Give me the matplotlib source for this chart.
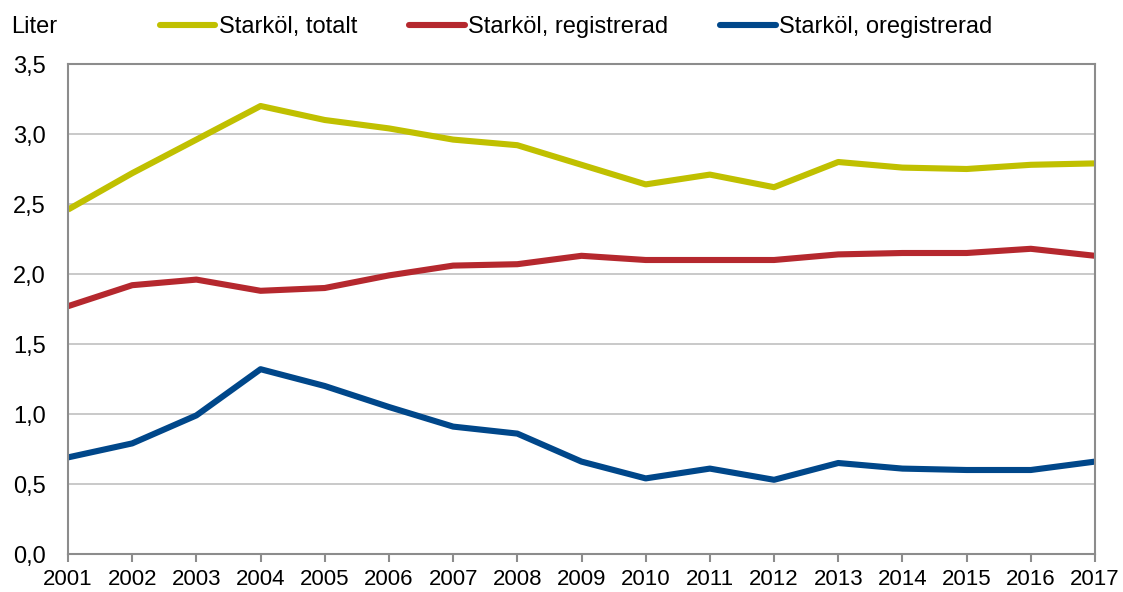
import numpy as np
import matplotlib.pyplot as plt

plt.rcParams['font.family'] = ['Liberation Sans', 'DejaVu Sans']

years = list(range(2001, 2018))
totalt = [2.46, 2.72, 2.96, 3.20, 3.10, 3.04, 2.96, 2.92, 2.78, 2.64, 2.71, 2.62, 2.80, 2.76, 2.75, 2.78, 2.79]
registrerad = [1.77, 1.92, 1.96, 1.88, 1.90, 1.99, 2.06, 2.07, 2.13, 2.10, 2.10, 2.10, 2.14, 2.15, 2.15, 2.18, 2.13]
oregistrerad = [0.69, 0.79, 0.99, 1.32, 1.20, 1.05, 0.91, 0.86, 0.66, 0.54, 0.61, 0.53, 0.65, 0.61, 0.60, 0.60, 0.66]

labels = ["Starköl, totalt", "Starköl, registrerad", "Starköl, oregistrerad"]
colors = ["#C0C000", "#B5282E", "#00478A"]

fig = plt.figure(figsize=(11.23, 5.92), dpi=100)
ax = fig.add_axes([68 / 1123, 38 / 592, (1095 - 68) / 1123, (554 - 64) / 592])

for vals, lab, col in zip([totalt, registrerad, oregistrerad], labels, colors):
    ax.plot(years, vals, color=col, lw=4.4, label=lab, solid_capstyle='butt')

ax.set_xlim(2001, 2017)
ax.set_ylim(0, 3.5)
ax.set_xticks(years)
ax.set_xticklabels([str(y) for y in years])
yt = np.arange(0, 3.51, 0.5)
ax.set_yticks(yt)
ax.set_yticklabels([f"{v:.1f}".replace('.', ',') for v in yt])
ax.grid(axis='y', color='#C0C0C0', lw=1.2)
ax.set_axisbelow(True)
for s in ax.spines.values():
    s.set_color('#8C8C8C')
    s.set_linewidth(1.5)
ax.tick_params(axis='x', direction='out', length=6, width=1.5, color='#8C8C8C', labelsize=16, pad=5)
ax.tick_params(axis='y', length=0, labelsize=17, pad=16)

fig.text(11 / 1123, 1 - 27 / 592, "Liter", fontsize=17, va='center', ha='left')
leg = fig.legend(loc='center left', bbox_to_anchor=(160 / 1123, 1 - 27 / 592), ncol=3,
                 frameon=False, fontsize=17, handlelength=2.35, handletextpad=0.15,
                 columnspacing=2.2, borderaxespad=0, borderpad=0)
for h in leg.get_lines():
    h.set_solid_capstyle('round')

fig.savefig("out.png", dpi=100)
